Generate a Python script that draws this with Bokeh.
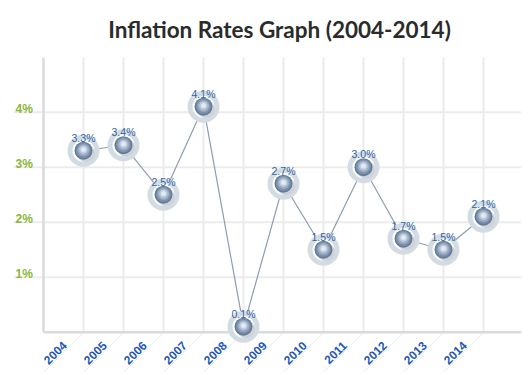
import math
from bokeh.plotting import figure
from bokeh.models import Range1d, ColumnDataSource
from bokeh.transform import dodge
from bokeh.core.properties import value
from bokeh.embed import file_html
from bokeh.resources import INLINE

title_text = "Inflation Rates Graph (2004-2014)"
years = [2004, 2005, 2006, 2007, 2008, 2009, 2010, 2011, 2012, 2013, 2014]
rates = [3.3, 3.4, 2.5, 4.1, 0.1, 2.7, 1.5, 3.0, 1.7, 1.5, 2.1]
rate_labels = ["3.3%", "3.4%", "2.5%", "4.1%", "0.1%", "2.7%", "1.5%", "3.0%", "1.7%", "1.5%", "2.1%"]
y_ticks = [1, 2, 3, 4]
y_tick_labels = ["1%", "2%", "3%", "4%"]
year_labels = [str(y) for y in years]

X0, X1 = 2002.25, 2014.95      # frame x extent
PLOT_TOP = 4.995               # top of the plotting area
Y1 = PLOT_TOP + 57 / 55        # frame extends up to canvas top (title area)
Y0 = Y1 - 372 / 55             # and down to canvas bottom (label area)
XL = 2003                      # left border
TITLE_X = 2008.9

src = ColumnDataSource(dict(x=years, y=rates, lab=rate_labels))

p = figure(width=522, height=372, output_backend="svg", toolbar_location=None,
           x_range=Range1d(X0, X1), y_range=Range1d(Y0, Y1),
           min_border_left=13, min_border_right=1, min_border_top=0, min_border_bottom=0)
p.outline_line_color = None
p.axis.visible = False
p.grid.visible = False

# title
p.text(x=[TITLE_X], y=[PLOT_TOP], text=[title_text], y_offset=-28,
       text_font=value("Lato"), text_font_style="bold", text_font_size="22.5px",
       text_color="#2b2b2b", text_align="center", text_baseline="alphabetic")

grid_c = "#ececec"
p.segment(x0=[X0] * len(y_ticks), y0=y_ticks, x1=[X1] * len(y_ticks), y1=y_ticks,
          line_color=grid_c, line_width=2)
p.segment(x0=years, y0=[0] * len(years), x1=years, y1=[PLOT_TOP] * len(years),
          line_color=grid_c, line_width=2)
p.segment(x0=years, y0=[0] * len(years), x1=[y - 1 for y in years], y1=[-40 / 55] * len(years),
          line_color="#e9e9e9", line_width=1)
p.segment(x0=[XL, XL], y0=[0, 0], x1=[XL, X1], y1=[PLOT_TOP, 0],
          line_color="#dadada", line_width=2.5)

p.text(x=[X0] * 4, y=y_ticks, text=y_tick_labels, x_offset=2, y_offset=-3,
       text_font=value("Liberation Sans"), text_font_style="bold", text_font_size="12px",
       text_color="#8ab63a", text_baseline="alphabetic", text_align="left")

p.text(x=years, y=[0] * len(years), text=year_labels, angle=math.pi / 4,
       x_offset=-19, y_offset=11,
       text_font=value("Liberation Sans"), text_font_style="bold", text_font_size="12px",
       text_color="#2457b8", text_baseline="middle", text_align="right")

p.line("x", "y", source=src, line_color="#8c9db3", line_width=1.2)
p.scatter("x", "y", source=src, size=32, fill_color="#d3dbe3", line_color=None)
p.scatter("x", "y", source=src, size=22, fill_color="white", line_color=None)
p.scatter(dodge("x", 2.5 / 40, range=p.x_range), dodge("y", -2.5 / 55, range=p.y_range),
          source=src, size=18, fill_color="#cfd2d6", line_color=None)
p.scatter("x", "y", source=src, size=18, fill_color="#647c9a", line_color=None)
p.scatter("x", dodge("y", 0.4 / 55, range=p.y_range), source=src, size=15, fill_color="#7c91ac", line_color=None)
p.scatter("x", dodge("y", 0.8 / 55, range=p.y_range), source=src, size=12, fill_color="#9aacc1", line_color=None)
p.scatter("x", dodge("y", 1.1 / 55, range=p.y_range), source=src, size=8.5, fill_color="#bccadb", line_color=None)
p.scatter("x", dodge("y", 1.3 / 55, range=p.y_range), source=src, size=5, fill_color="#e2e9f0", line_color=None)

p.text("x", "y", text="lab", source=src, y_offset=-13,
       text_font=value("Liberation Sans"), text_font_size="10.5px",
       text_color="#3366a6", text_align="center", text_baseline="alphabetic")

open("out.html", "w").write(file_html(p, INLINE))
